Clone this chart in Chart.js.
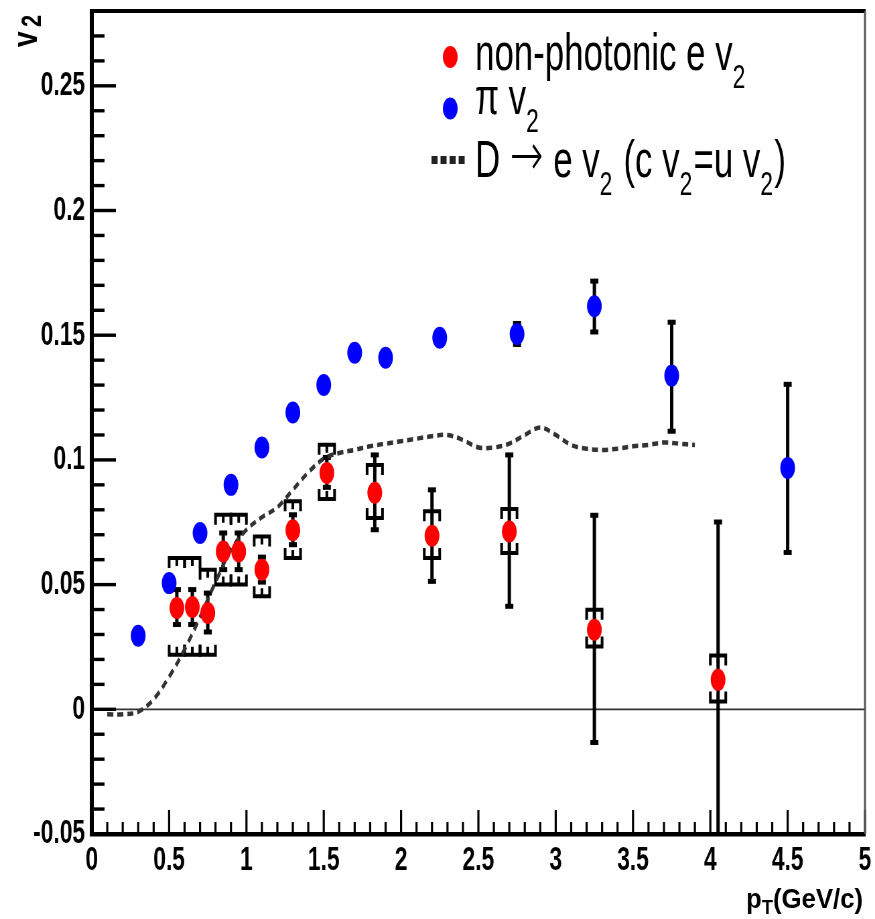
<!DOCTYPE html>
<html><head><meta charset="utf-8">
<script src="https://cdn.jsdelivr.net/npm/chart.js@4.4.1/dist/chart.umd.min.js"></script>
<style>
html,body{margin:0;padding:0;background:#fff;overflow:hidden;width:875px;height:919px;}
#wrap{width:1306px;height:919px;transform:scaleX(0.67);transform-origin:0 0;}
canvas{display:block;}
</style></head><body>
<div id="wrap"><canvas id="c" width="1306" height="919"></canvas></div>
<script>
// ---- tick labels ----
const xTickValues = [0,0.5,1,1.5,2,2.5,3,3.5,4,4.5,5];
const xTickLabels = ['0','0.5','1','1.5','2','2.5','3','3.5','4','4.5','5'];
const yTickValues = [-0.05,0,0.05,0.1,0.15,0.2,0.25];
const yTickLabels = ['-0.05','0','0.05','0.1','0.15','0.2','0.25'];

// ---- non-photonic electron v2 ----
const npePt     = [0.55,0.65,0.75,0.85,0.95,1.1,1.3,1.52,1.83,2.2,2.7,3.25,4.05];
const npeV2     = [0.0406,0.041,0.0386,0.0633,0.0633,0.056,0.0718,0.0948,0.0868,0.0696,0.0713,0.0319,0.0118];
const npeStatLo = [0.034,0.034,0.031,0.056,0.056,0.051,0.066,0.089,0.072,0.0513,0.0413,-0.0133,-0.0515];
const npeStatHi = [0.048,0.048,0.0466,0.0707,0.0707,0.061,0.078,0.101,0.102,0.088,0.102,0.0778,0.0751];
const npeSysLo  = [0.0219,0.0219,0.0219,0.050,0.050,0.0453,0.0607,0.0843,0.0767,0.0607,0.0627,0.0252,0.0031];
const npeSysHi  = [0.0607,0.0607,0.056,0.078,0.078,0.0693,0.0834,0.1061,0.098,0.0794,0.0803,0.0399,0.0216];

// ---- pion v2 ----
const piPt    = [0.3,0.5,0.7,0.9,1.1,1.3,1.5,1.7,1.9,2.25,2.75,3.25,3.75,4.5];
const piV2    = [0.0295,0.0506,0.0707,0.090,0.105,0.119,0.130,0.143,0.141,0.149,0.1505,0.1616,0.1338,0.0968];
const piErrLo = [null,null,null,null,null,null,null,null,null,null,0.1463,0.1513,0.1115,0.0629];
const piErrHi = [null,null,null,null,null,null,null,null,null,null,0.1547,0.1717,0.1552,0.1303];

// ---- D -> e v2 (c v2 = u v2) curve ----
const dPt = [0.1,0.2,0.3,0.4,0.5,0.6,0.7,0.8,0.9,1.0,1.1,1.2,1.3,1.4,1.5,1.6,1.7,1.8,1.9,2.0,2.1,2.2,2.3,2.4,2.5,2.6,2.7,2.8,2.9,3.0,3.1,3.2,3.3,3.4,3.5,3.6,3.7,3.8,3.9];
const dV2 = [-0.002,-0.002,-0.001,0.004,0.013,0.024,0.037,0.051,0.064,0.072,0.077,0.081,0.088,0.095,0.1005,0.1028,0.104,0.1055,0.1065,0.1075,0.1085,0.1095,0.110,0.108,0.105,0.105,0.1065,0.110,0.113,0.110,0.106,0.1045,0.104,0.1045,0.1055,0.106,0.107,0.1065,0.106];

const FONT = "'Liberation Sans', Arial, Helvetica, sans-serif";

function drawErr(ctx, px, pLo, pHi){
  ctx.lineWidth = 5;
  ctx.beginPath(); ctx.moveTo(px,pLo); ctx.lineTo(px,pHi); ctx.stroke();
  ctx.fillRect(px-6, pLo-2.5, 12, 5);
  ctx.fillRect(px-6, pHi-2.5, 12, 5);
}
function drawBracket(ctx, px, py, dir){
  const hw = 11.5, L = 10;
  ctx.lineWidth = 4;
  ctx.beginPath();
  ctx.moveTo(px-hw, py+dir*L); ctx.lineTo(px-hw, py); ctx.lineTo(px+hw, py); ctx.lineTo(px+hw, py+dir*L);
  ctx.moveTo(px, py); ctx.lineTo(px, py+dir*L*0.8);
  ctx.stroke();
}

const rootPlugin = {
  id: 'rootStyle',
  beforeDatasetsDraw(chart){
    const {ctx, chartArea:a, scales:{x,y}} = chart;
    ctx.save();
    ctx.beginPath(); ctx.rect(a.left, a.top, a.right-a.left, a.bottom-a.top); ctx.clip();
    const y0 = y.getPixelForValue(0);
    ctx.strokeStyle = '#333'; ctx.lineWidth = 1.8;
    ctx.beginPath(); ctx.moveTo(a.left, y0); ctx.lineTo(a.right, y0); ctx.stroke();
    ctx.strokeStyle = '#000'; ctx.fillStyle = '#000'; ctx.lineJoin = 'miter';
    piPt.forEach((p,i)=>{
      if (piErrLo[i] == null) return;
      drawErr(ctx, x.getPixelForValue(p), y.getPixelForValue(piErrLo[i]), y.getPixelForValue(piErrHi[i]));
    });
    npePt.forEach((p,i)=>{
      const px = x.getPixelForValue(p);
      drawErr(ctx, px, y.getPixelForValue(npeStatLo[i]), y.getPixelForValue(npeStatHi[i]));
      drawBracket(ctx, px, y.getPixelForValue(npeSysHi[i]), 1);
      drawBracket(ctx, px, y.getPixelForValue(npeSysLo[i]), -1);
    });
    ctx.restore();
  },
  afterDraw(chart){
    const {ctx, chartArea:a, scales:{x,y}} = chart;
    ctx.save();
    ctx.fillStyle = '#000';
    for (let k = 0; k <= 50; k++){
      const px = x.getPixelForValue(k/10);
      const len = (k%5===0) ? 24 : 12;
      ctx.fillRect(px-1.6, a.bottom-len, 3.2, len);
    }
    for (let k = -5; k <= 28; k++){
      const py = y.getPixelForValue(k/100);
      const len = (k%5===0) ? 36 : 19;
      ctx.fillRect(a.left, py-1.7, len, 3.4);
    }
    ctx.fillRect(a.left-3, a.top-2, 6, a.bottom-a.top+4);
    ctx.fillRect(a.left-3, a.bottom-2, a.right-a.left+4, 4.5);
    ctx.fillRect(a.left-3, a.top-2, a.right-a.left+4, 4);
    ctx.fillStyle = '#555';
    ctx.fillRect(a.right-1.5, a.top, 3, a.bottom-a.top);

    // x axis title p_T(GeV/c)
    ctx.fillStyle = '#000';
    ctx.save();
    ctx.translate(a.right-3, 908);
    ctx.scale(1.37, 1);
    ctx.textBaseline = 'alphabetic'; ctx.textAlign = 'left';
    const fMain = 'bold 28px ' + FONT, fSub = 'bold 20px ' + FONT;
    ctx.font = fMain; const wp = ctx.measureText('p').width, wr = ctx.measureText('(GeV/c)').width;
    ctx.font = fSub; const wt = ctx.measureText('T').width;
    let cx = -(wp + wt + wr);
    ctx.font = fMain; ctx.fillText('p', cx, 0); cx += wp;
    ctx.font = fSub; ctx.fillText('T', cx, 6); cx += wt;
    ctx.font = fMain; ctx.fillText('(GeV/c)', cx, 0);
    ctx.restore();

    // y axis title v_2
    ctx.save();
    ctx.translate(55, 47);
    ctx.scale(1.93, 1);
    ctx.rotate(-Math.PI/2);
    ctx.textAlign = 'left'; ctx.textBaseline = 'alphabetic';
    ctx.font = 'bold 28px ' + FONT; ctx.fillText('v', 0, 0);
    ctx.font = 'bold 22px ' + FONT; ctx.fillText('2', 20, 3);
    ctx.restore();

    // legend
    const lf = '52px ' + FONT, sf = '34px ' + FONT, af = "200 60px 'DejaVu Sans', sans-serif";
    function seg(parts, x0, base){
      let cx2 = x0;
      parts.forEach(([t, kind])=>{
        ctx.font = kind===1 ? sf : (kind===2 ? af : lf);
        ctx.fillText(t, cx2, kind===1 ? base+18 : (kind===2 ? base-2 : base));
        cx2 += ctx.measureText(t).width + (kind===1 ? 2 : 0);
      });
    }
    ctx.textAlign = 'left'; ctx.textBaseline = 'alphabetic';
    ctx.fillStyle = '#ff0000'; ctx.beginPath(); ctx.arc(672, 57, 11, 0, Math.PI*2); ctx.fill();
    ctx.fillStyle = '#0000ff'; ctx.beginPath(); ctx.arc(672, 108.5, 11, 0, Math.PI*2); ctx.fill();
    ctx.strokeStyle = '#222'; ctx.lineWidth = 8; ctx.setLineDash([9,4.5]);
    ctx.beginPath(); ctx.moveTo(644, 160); ctx.lineTo(698, 160); ctx.stroke();
    ctx.setLineDash([]);
    ctx.fillStyle = '#000';
    seg([['non-photonic e v',0],['2',1]], 709, 70);
    seg([['\u03C0 v',0],['2',1]], 709, 114);
    seg([['D ',0],['\u2192',2],[' e v',0],['2',1],[' (c v',0],['2',1],['=u v',0],['2',1],[')',0]], 709, 177);
    ctx.restore();
  }
};

function lbl(values, labels){
  return (v)=>{ const i = values.findIndex(t=>Math.abs(t-v)<1e-9); return i<0 ? '' : labels[i]; };
}

new Chart(document.getElementById('c'), {
  data: {
    datasets: [
      { type:'scatter', label:'non-photonic e v2', data: npePt.map((p,i)=>({x:p,y:npeV2[i]})),
        backgroundColor:'#ff0000', borderWidth:0, pointRadius:11, pointHoverRadius:11 },
      { type:'scatter', label:'\u03C0 v2', data: piPt.map((p,i)=>({x:p,y:piV2[i]})),
        backgroundColor:'#0000ff', borderWidth:0, pointRadius:11, pointHoverRadius:11 },
      { type:'line', label:'D \u2192 e v2 (c v2=u v2)', data: dPt.map((p,i)=>({x:p,y:dV2[i]})),
        borderColor:'#333', borderWidth:4.5, borderDash:[9,6], pointRadius:0, tension:0.35, fill:false }
    ]
  },
  options: {
    responsive:false, animation:false,
    layout:{ padding:{ left:0, right:15, top:11, bottom:0 } },
    plugins:{ legend:{display:false}, tooltip:{enabled:false} },
    scales:{
      x:{ type:'linear', min:0, max:5,
          grid:{display:false, drawTicks:false}, border:{display:false},
          afterBuildTicks:(s)=>{ s.ticks = xTickValues.map(v=>({value:v})); },
          afterFit:(s)=>{ s.height = 85; s.paddingLeft = 0; s.paddingRight = 0; },
          ticks:{ autoSkip:false, maxRotation:0, padding:6, color:'#000',
                  font:{family:FONT, size:34, weight:'bold'}, callback: lbl(xTickValues, xTickLabels) } },
      y:{ type:'linear', min:-0.05, max:0.28,
          grid:{display:false, drawTicks:false}, border:{display:false},
          afterBuildTicks:(s)=>{ s.ticks = yTickValues.map(v=>({value:v})); },
          afterFit:(s)=>{ s.width = 137; s.paddingTop = 0; s.paddingBottom = 0; },
          ticks:{ autoSkip:false, padding:10, color:'#000',
                  font:{family:FONT, size:34, weight:'bold'}, callback: lbl(yTickValues, yTickLabels) } }
    }
  },
  plugins:[rootPlugin]
});
</script>
</body></html>
